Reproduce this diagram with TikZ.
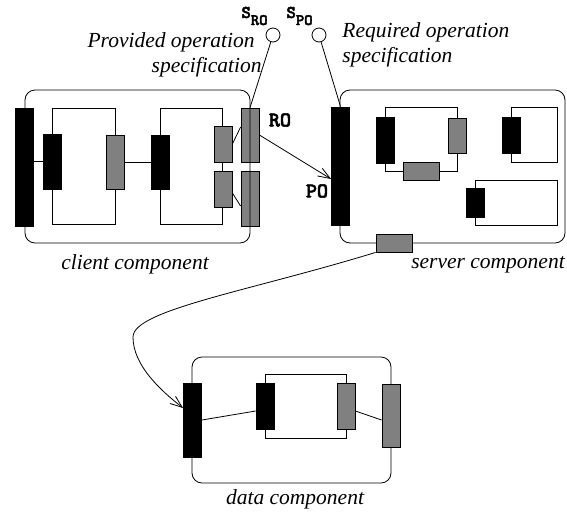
\documentclass[tikz,border=0pt]{standalone}
\usepackage{fontspec}
\setmainfont{Liberation Serif}
\newfontfamily\codefont{lmmonolt10-bold.otf}[FakeBold=2.5]
\usetikzlibrary{arrows.meta,calc}
\begin{document}
\begin{tikzpicture}[x=1pt,y=-1pt, line width=0.8pt,
  blk/.style={draw, fill=black, inner sep=0pt, minimum width=18pt},
  gry/.style={draw, fill=gray, inner sep=0pt, minimum width=18pt},
  comp/.style={draw, rounded corners=10pt},
  lbl/.style={inner sep=0pt, font=\fontsize{21.5}{25}\selectfont\itshape},
  code/.style={inner sep=0pt, font=\fontsize{21}{21}\selectfont\codefont},
  arr/.style={-{Straight Barb[length=12pt,width=9pt]}}]
\useasboundingbox (0,0) rectangle (567,515);

% ---------- client component ----------
\draw (52,108) rectangle (115,224);
\draw (160,108) rectangle (222,224);
\node[blk, minimum height=118pt] (cbar) at (24.5,167) {};
\node[blk, minimum height=55pt] (cb1) at (52,161.5) {};
\node[gry, minimum height=54pt] (cg1) at (115,162) {};
\node[blk, minimum height=54pt] (cb2) at (160,162) {};
\node[gry, minimum height=36pt] (cg2) at (223,144) {};
\node[gry, minimum height=36pt] (cg3) at (223,189) {};
\node[gry, minimum height=54pt] (ro) at (250,135) {};
\node[gry, minimum height=55pt] (cg5) at (250,198.5) {};
\draw[comp] (25,90) rectangle (250,243);
\draw (cbar.east |- cb1.west) -- (cb1.west);
\draw (cg1.east) -- (cb2.west);
\draw (cg2.east) -- ([yshift=8pt]ro.west);
\draw ([yshift=-4pt]cg3.east) -- ([yshift=-7.5pt]cg5.west);

% ---------- server component ----------
\draw[comp] (340,90) rectangle (565,243);
\draw (385,107) rectangle (457,171);
\draw (511,107) rectangle (557,162);
\draw (475,180) rectangle (557,225);
\node[blk, minimum height=118pt] (po) at (340.5,166) {};
\node[blk, minimum height=46pt] (sb1) at (385.5,140) {};
\node[gry, minimum height=35pt] (sg1) at (457,135.5) {};
\node[gry, minimum width=36pt, minimum height=18pt] (sg2) at (421,171) {};
\node[blk, minimum height=36pt] (sb2) at (511.5,135) {};
\node[blk, minimum height=29pt] (sb3) at (475,202.5) {};
\node[gry, minimum width=36pt, minimum height=18pt] (sg3) at (394,243) {};

% ---------- data component ----------
\draw[comp] (192,357) rectangle (391,483);
\draw (265,374) rectangle (346,438);
\node[blk, minimum height=74pt] (dbar) at (192.5,420) {};
\node[blk, minimum height=46pt] (db1) at (265,406) {};
\node[gry, minimum height=46pt] (dg1) at (346,406) {};
\node[gry, minimum height=63pt] (dg2) at (391,415.5) {};
\draw (dbar.east) -- ([yshift=-5pt]db1.west);
\draw ([yshift=-5pt]dg1.east) -- ([yshift=-4.5pt]dg2.west);

% ---------- specifications ----------
\node[draw, circle, minimum size=14pt, inner sep=0pt] (sro) at (273,35) {};
\node[draw, circle, minimum size=14pt, inner sep=0pt] (spo) at (319,35) {};
\draw (sro) -- (ro.north);
\draw (spo) -- (po.north);

% ---------- connectors ----------
\draw[arr] (ro.east) -- ([yshift=-13pt]po.west);
\draw[arr] (sg3.south west) .. controls (250,291) and (133,310) .. (133,337)
  .. controls (133,365) and (160,390) .. ([yshift=12pt]dbar.west);

% ---------- labels ----------
\node[lbl] (cl) at (135,264) {client component};
\node[lbl] (sl) at (488,265) {server component};
\node[lbl] (dl) at (295,499) {data component};
\node[lbl, anchor=east] (prov1) at (255,42) {Provided operation};
\node[lbl, anchor=east] (prov2) at (262,67) {specification};
\node[lbl, anchor=west] (req1) at (342,32) {Required operation};
\node[lbl, anchor=west] (req2) at (342,57) {specification};
\node[code] (rol) at (280,120) {RO};
\node[code] (pol) at (317,191) {PO};
\node[inner sep=0pt, anchor=base west, font=\codefont] (srol) at (241,18)
  {\fontsize{18}{18}\selectfont S\raisebox{-7pt}{\fontsize{16}{16}\selectfont RO}};
\node[inner sep=0pt, anchor=base west, font=\codefont] (spol) at (286,18)
  {\fontsize{18}{18}\selectfont S\raisebox{-7pt}{\fontsize{16}{16}\selectfont PO}};
\end{tikzpicture}
\end{document}
